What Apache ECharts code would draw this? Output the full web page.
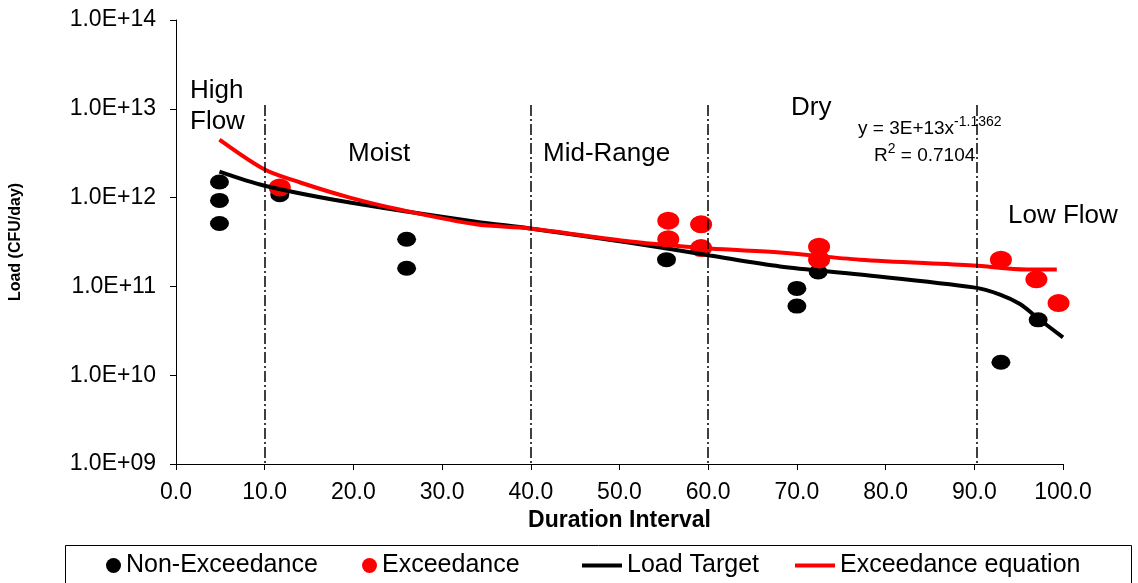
<!DOCTYPE html>
<html>
<head>
<meta charset="utf-8">
<script src="https://cdn.jsdelivr.net/npm/echarts@6/dist/echarts.min.js"></script>
<style>
  html, body { margin: 0; padding: 0; background: #fff; }
  #chart1 { width: 1138px; height: 583px; }
</style>
</head>
<body>
<div id="chart1"></div>
<script>
// non-exceedance samples (black dots)
var nonExX = [4.9, 4.9, 4.9, 11.7, 26.0, 26.0, 55.3, 70.0, 70.0, 72.4, 93.0, 97.2];
var nonExY = [1.5e12, 9.3e11, 5.1e11, 1.08e12, 3.4e11, 1.6e11, 2.0e11, 9.5e10, 6.0e10, 1.45e11, 1.4e10, 4.2e10];
// exceedance samples (red dots)
var exX = [11.7, 55.5, 55.5, 59.2, 59.2, 72.5, 72.5, 93.0, 97.0, 99.5];
var exY = [1.3e12, 5.5e11, 3.4e11, 5.0e11, 2.7e11, 2.8e11, 2.0e11, 2.0e11, 1.2e11, 6.5e10];
// load target curve
var targetX = [4.9, 10, 19.6, 33.8, 39.9, 51.2, 60.2, 68.1, 77.1, 89.9, 92.9, 95.2, 96.8, 98.2, 100];
var targetY = [1.96e12, 1.36e12, 8.8e11, 5.35e11, 4.5e11, 3.1e11, 2.23e11, 1.68e11, 1.36e11, 9.75e10, 8.1e10, 6.3e10, 4.7e10, 3.65e10, 2.67e10];
// exceedance equation curve
var eqX = [4.9, 10, 14, 19.6, 25.3, 33.8, 39.9, 51.2, 60.2, 68.1, 77.1, 89.9, 95.9, 99.3];
var eqY = [4.5e12, 2.07e12, 1.48e12, 1.0e12, 7.3e11, 5.0e11, 4.5e11, 3.2e11, 2.67e11, 2.41e11, 2.0e11, 1.72e11, 1.55e11, 1.55e11];
// flow zone boundaries and names
var zoneBounds = [10, 40, 60, 90.3];
var zoneNames = ['High\nFlow', 'Moist', 'Mid-Range', 'Dry', 'Low Flow'];
var xTicks = [0, 10, 20, 30, 40, 50, 60, 70, 80, 90, 100];
var legendNames = ['Non-Exceedance', 'Exceedance', 'Load Target', 'Exceedance equation'];

function pairs (xs, ys) {
    return xs.map(function (x, i) { return [x, ys[i]]; });
}

_initChart();

function _initChart () {
    var myChart = echarts.init(document.getElementById('chart1'));
    var font = 'Liberation Sans, Arial, sans-serif';
    // one legend per entry so each icon sits where the original has it
    var legendLeft = [106, 362, 582, 795];
    var legends = legendNames.map(function (n, i) {
        var isLine = i > 1;
        return {
            left: legendLeft[i], top: 553, padding: 0,
            itemWidth: isLine ? 40 : 15,
            itemHeight: isLine ? 4 : 18,
            textStyle: { fontSize: 25, color: '#000' },
            data: [{ name: n, icon: isLine ? 'rect' : 'circle' }]
        };
    });
    var option = {
        animation: false,
        textStyle: { fontFamily: font, color: '#000' },
        grid: { left: 176, right: 75, top: 20, bottom: 119 },
        xAxis: {
            type: 'value',
            min: xTicks[0],
            max: xTicks[xTicks.length - 1],
            interval: 10,
            name: 'Duration Interval',
            nameLocation: 'middle',
            nameGap: 45,
            nameTextStyle: { fontSize: 23, fontWeight: 'bold', color: '#000' },
            axisLine: { lineStyle: { color: '#000', width: 1 } },
            axisTick: { length: 6, lineStyle: { color: '#000' } },
            axisLabel: {
                margin: 17,
                fontSize: 23,
                color: '#000',
                formatter: function (v) { return v.toFixed(1); }
            },
            splitLine: { show: false }
        },
        yAxis: {
            type: 'log',
            logBase: 10,
            min: 1e9,
            max: 1e14,
            name: 'Load (CFU/day)',
            nameLocation: 'middle',
            nameGap: 152,
            nameTextStyle: { fontSize: 16, fontWeight: 'bold', color: '#000' },
            axisLine: { show: true, lineStyle: { color: '#000', width: 1 } },
            axisTick: { show: true, length: 6, lineStyle: { color: '#000' } },
            minorTick: { show: false },
            axisLabel: {
                margin: 20,
                fontSize: 23,
                color: '#000',
                formatter: function (v) {
                    var e = Math.round(Math.log10(v));
                    return '1.0E+' + (e < 10 ? '0' + e : e);
                }
            },
            splitLine: { show: false }
        },
        legend: legends,
        graphic: [
            {
                type: 'rect', silent: true,
                shape: { x: 65.5, y: 545.5, width: 1066, height: 60 },
                style: { fill: 'none', stroke: '#000', lineWidth: 1 }
            },
            { type: 'text', left: 190, top: 75, style: { text: zoneNames[0], font: '26px ' + font, lineHeight: 31, fill: '#000' } },
            { type: 'text', left: 348, top: 141, style: { text: zoneNames[1], font: '26px ' + font, fill: '#000' } },
            { type: 'text', left: 543, top: 141, style: { text: zoneNames[2], font: '26px ' + font, fill: '#000' } },
            { type: 'text', left: 791, top: 95, style: { text: zoneNames[3], font: '26px ' + font, fill: '#000' } },
            { type: 'text', left: 1008, top: 203, style: { text: zoneNames[4], font: '26px ' + font, fill: '#000' } },
            {
                type: 'text', left: 858, top: 115,
                style: {
                    text: '{a|y = 3E+13x}{s|-1.1362}\n{b|R}{s|2}{a| = 0.7104}',
                    align: 'center',
                    rich: {
                        a: { fontSize: 19, fontFamily: font, color: '#000', lineHeight: 27 },
                        b: { fontSize: 19, fontFamily: font, color: '#000', lineHeight: 27, padding: [0, 0, 0, 16] },
                        s: { fontSize: 14, fontFamily: font, color: '#000', lineHeight: 27, verticalAlign: 'top', padding: [0, 0, 8, 0] }
                    }
                }
            }
        ],
        series: [
            {
                name: 'Non-Exceedance',
                type: 'scatter',
                symbol: 'circle',
                symbolSize: [19, 15],
                itemStyle: { color: '#000', opacity: 1 },
                data: pairs(nonExX, nonExY)
            },
            {
                name: 'Exceedance',
                type: 'scatter',
                symbol: 'circle',
                symbolSize: [22, 18],
                itemStyle: { color: '#ff0000', opacity: 1 },
                data: pairs(exX, exY)
            },
            {
                name: 'Load Target',
                type: 'line',
                z: 3,
                symbol: 'none',
                smooth: 0.3,
                lineStyle: { color: '#000', width: 4 },
                itemStyle: { color: '#000' },
                data: pairs(targetX, targetY),
                markLine: {
                    silent: true,
                    symbol: 'none',
                    label: { show: false },
                    lineStyle: { color: '#000', width: 1.5, type: [11, 3, 2, 3] },
                    data: zoneBounds.map(function (b) {
                        return [{ coord: [b, 1.1e13] }, { coord: [b, 1e9] }];
                    })
                }
            },
            {
                name: 'Exceedance equation',
                type: 'line',
                z: 3,
                symbol: 'none',
                smooth: 0.3,
                lineStyle: { color: '#ff0000', width: 4 },
                itemStyle: { color: '#ff0000' },
                data: pairs(eqX, eqY)
            }
        ]
    };
    myChart.setOption(option);
    window.onresize = myChart.resize;
}
</script>
</body>
</html>
